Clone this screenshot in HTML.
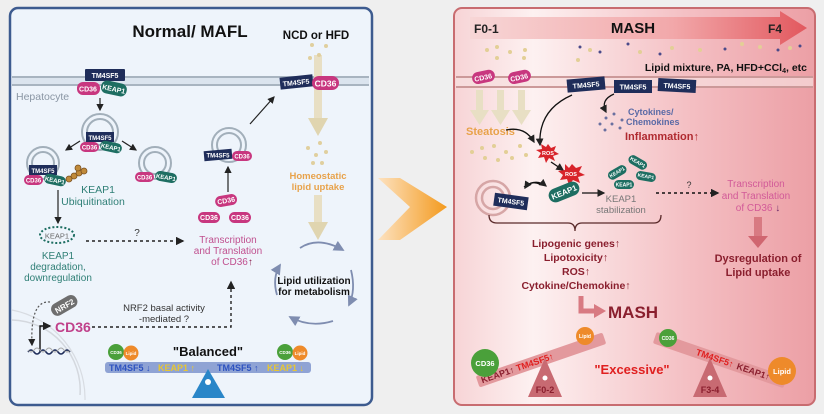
<!DOCTYPE html>
<html><head><meta charset="utf-8"><style>
body{margin:0;background:#efefef;}
svg{display:block;font-family:"Liberation Sans",sans-serif;}
</style></head><body>
<svg width="824" height="414" viewBox="0 0 824 414" xmlns="http://www.w3.org/2000/svg">
<defs>
<linearGradient id="rg" x1="0" x2="1" y1="0" y2="0">
<stop offset="0" stop-color="#f7d4d6"/><stop offset="0.22" stop-color="#fdf1f1"/><stop offset="0.65" stop-color="#f4bfc3"/><stop offset="1" stop-color="#ec9fa5"/></linearGradient>
<linearGradient id="ag" x1="0" x2="1"><stop offset="0" stop-color="#f7d6d6"/><stop offset="0.6" stop-color="#f2a8aa"/><stop offset="1" stop-color="#e2585e"/></linearGradient>
<linearGradient id="og" x1="0" x2="1"><stop offset="0" stop-color="#fde2c0"/><stop offset="1" stop-color="#f39a1e"/></linearGradient>
<marker id="ah" markerWidth="6" markerHeight="6" refX="5" refY="3" orient="auto"><path d="M0,0L6,3L0,6z" fill="#222"/></marker>
<marker id="ah2" markerWidth="6" markerHeight="6" refX="5" refY="3" orient="auto"><path d="M0,0L6,3L0,6z" fill="#7f8db0"/></marker>
</defs>
<rect width="824" height="414" fill="#efefef"/>
<!-- orange arrow -->
<polygon points="378,178 400,178 447,207 400,240 378,240 410,207" fill="url(#og)"/>
<!-- LEFT PANEL -->
<rect x="10" y="8" width="362" height="397" rx="8" fill="#eef4fb" stroke="#3d5b8f" stroke-width="2.5"/>
<path d="M12,320 A70,70 0 0 1 80,395" fill="none" stroke="#d4d8de" stroke-width="1.5"/>
<path d="M12,310 A90,90 0 0 1 85,400" fill="none" stroke="#d8dce2" stroke-width="1.2"/>
<line x1="12" y1="77" x2="369" y2="77" stroke="#a8b4c0" stroke-width="2"/>
<line x1="12" y1="85" x2="369" y2="85" stroke="#a8b4c0" stroke-width="2"/>
<rect x="12" y="78" width="357" height="6" fill="#dbe4ee"/>
<text x="190" y="37" font-size="17" font-weight="bold" text-anchor="middle" fill="#111">Normal/ MAFL</text>
<text x="316" y="39" font-size="11.5" font-weight="bold" text-anchor="middle" fill="#111">NCD or HFD</text>
<text x="16" y="100" font-size="10.5" fill="#8a96a4">Hepatocyte</text>
<!-- tan arrows -->
<rect x="314" y="55" width="8" height="65" fill="#e8dfc4"/><polygon points="308,118 328,118 318,136" fill="#e0d5b0"/>
<rect x="314" y="195" width="8" height="30" fill="#e8dfc4"/><polygon points="308,222 328,222 318,240" fill="#e0d5b0"/>
<g fill="#e0cf9e"><circle cx="312" cy="45" r="2"/><circle cx="326" cy="46" r="2"/><circle cx="310" cy="58" r="2"/><circle cx="319" cy="55" r="2"/><circle cx="308" cy="148" r="2"/><circle cx="320" cy="143" r="2"/><circle cx="316" cy="155" r="2"/><circle cx="326" cy="152" r="2"/><circle cx="313" cy="163" r="2"/><circle cx="322" cy="163" r="2"/></g>
<text x="318" y="179" font-size="9.5" font-weight="bold" text-anchor="middle" fill="#e8a24a">Homeostatic</text>
<text x="318" y="190" font-size="9.5" font-weight="bold" text-anchor="middle" fill="#e8a24a">lipid uptake</text>
<!-- top complex -->
<rect x="85" y="69" width="40" height="12" rx="1" fill="#1f2d5a"/><text x="105" y="78" font-size="7" font-weight="bold" fill="#fff" text-anchor="middle">TM4SF5</text>
<rect x="77" y="82" width="23" height="13" rx="6" fill="#c8377f"/><text x="88" y="91.5" font-size="7" font-weight="bold" fill="#fff" text-anchor="middle">CD36</text>
<rect x="101" y="82" width="26" height="13" rx="6" fill="#1e6e62" transform="rotate(12 114 88)"/><text x="114" y="91.5" font-size="7" font-weight="bold" fill="#fff" text-anchor="middle" transform="rotate(12 114 88)">KEAP1</text>
<line x1="100" y1="98" x2="100" y2="110" stroke="#222" stroke-width="1.2" marker-end="url(#ah)"/>
<!-- vesicles -->
<g fill="none" stroke="#a2afba" stroke-width="2">
<circle cx="100" cy="132" r="18"/><circle cx="100" cy="132" r="13"/>
<circle cx="43" cy="163" r="16"/><circle cx="43" cy="163" r="11"/>
<circle cx="155" cy="163" r="16"/><circle cx="155" cy="163" r="11"/>
<circle cx="229" cy="145" r="17"/><circle cx="229" cy="145" r="12"/>
</g>
<rect x="86" y="132" width="28" height="10" fill="#1f2d5a"/><text x="100" y="140" font-size="6" font-weight="bold" fill="#fff" text-anchor="middle">TM4SF5</text>
<rect x="80" y="142" width="19" height="10" rx="5" fill="#c8377f"/><text x="89.5" y="149.5" font-size="6" font-weight="bold" fill="#fff" text-anchor="middle">CD36</text>
<rect x="100" y="142" width="22" height="10" rx="5" fill="#1e6e62" transform="rotate(12 111 147)"/><text x="111" y="149.5" font-size="6" font-weight="bold" fill="#fff" text-anchor="middle" transform="rotate(12 111 147)">KEAP1</text>
<line x1="80" y1="141" x2="66" y2="150" stroke="#222" stroke-width="1.2" marker-end="url(#ah)"/>
<line x1="122" y1="141" x2="136" y2="150" stroke="#222" stroke-width="1.2" marker-end="url(#ah)"/>
<rect x="29" y="165" width="28" height="10" fill="#1f2d5a"/><text x="43" y="173" font-size="6" font-weight="bold" fill="#fff" text-anchor="middle">TM4SF5</text>
<rect x="24" y="175" width="19" height="10" rx="5" fill="#c8377f"/><text x="33.5" y="182.5" font-size="6" font-weight="bold" fill="#fff" text-anchor="middle">CD36</text>
<rect x="44" y="175" width="22" height="10" rx="5" fill="#1e6e62" transform="rotate(12 55 180)"/><text x="55" y="182.5" font-size="6" font-weight="bold" fill="#fff" text-anchor="middle" transform="rotate(12 55 180)">KEAP1</text>
<g fill="#c08a3a" stroke="#7a5020" stroke-width="0.8"><circle cx="69" cy="179" r="3"/><circle cx="74" cy="176" r="3"/><circle cx="79" cy="173" r="3"/><circle cx="84" cy="171" r="3"/><circle cx="78" cy="168" r="3"/></g>
<rect x="135" y="172" width="19" height="10" rx="5" fill="#c8377f"/><text x="144.5" y="179.5" font-size="6" font-weight="bold" fill="#fff" text-anchor="middle">CD36</text>
<rect x="155" y="172" width="22" height="10" rx="5" fill="#1e6e62" transform="rotate(10 166 177)"/><text x="166" y="179.5" font-size="6" font-weight="bold" fill="#fff" text-anchor="middle" transform="rotate(10 166 177)">KEAP1</text>
<text x="98" y="193" font-size="10.5" fill="#2f7f76" text-anchor="middle">KEAP1</text>
<text x="93" y="205" font-size="10.5" fill="#2f7f76" text-anchor="middle">Ubiquitination</text>
<line x1="58" y1="190" x2="58" y2="223" stroke="#222" stroke-width="1.2" marker-end="url(#ah)"/>
<ellipse cx="57" cy="235" rx="17" ry="8" fill="none" stroke="#1e6e62" stroke-width="2" stroke-dasharray="2,2"/><text x="57" y="238.5" font-size="7.5" fill="#666" text-anchor="middle">KEAP1</text>
<text x="58" y="259" font-size="10" fill="#2f7f76" text-anchor="middle">KEAP1</text>
<text x="58" y="270" font-size="10" fill="#2f7f76" text-anchor="middle">degradation,</text>
<text x="58" y="281" font-size="10" fill="#2f7f76" text-anchor="middle">downregulation</text>
<line x1="86" y1="241" x2="183" y2="241" stroke="#222" stroke-width="1.4" stroke-dasharray="3,3" marker-end="url(#ah)"/>
<text x="137" y="236" font-size="10" fill="#333" text-anchor="middle">?</text>
<!-- middle vesicle -->
<rect x="204" y="150" width="28" height="10" fill="#1f2d5a" transform="rotate(-5 218 155)"/><text x="218" y="157.5" font-size="6" font-weight="bold" fill="#fff" text-anchor="middle">TM4SF5</text>
<rect x="232" y="151" width="20" height="10" rx="5" fill="#c8377f"/><text x="242" y="158.5" font-size="6" font-weight="bold" fill="#fff" text-anchor="middle">CD36</text>
<line x1="228" y1="192" x2="228" y2="167" stroke="#222" stroke-width="1.2" marker-end="url(#ah)"/>
<line x1="250" y1="124" x2="274" y2="97" stroke="#222" stroke-width="1.2" marker-end="url(#ah)"/>
<rect x="280" y="76" width="33" height="12" fill="#1f2d5a" transform="rotate(-6 296 82)"/><text x="296" y="85" font-size="7" font-weight="bold" fill="#fff" text-anchor="middle" transform="rotate(-6 296 82)">TM4SF5</text>
<rect x="312" y="76" width="27" height="14" rx="7" fill="#c8377f"/><text x="325.5" y="86.5" font-size="8.5" font-weight="bold" fill="#fff" text-anchor="middle">CD36</text>
<g font-size="7" font-weight="bold" fill="#fff" text-anchor="middle">
<rect x="215" y="195" width="22" height="11" rx="5.5" fill="#c8377f" transform="rotate(-10 226 200)"/><text x="226" y="203" transform="rotate(-10 226 200)">CD36</text>
<rect x="198" y="212" width="22" height="11" rx="5.5" fill="#c8377f"/><text x="209" y="220">CD36</text>
<rect x="229" y="212" width="22" height="11" rx="5.5" fill="#c8377f"/><text x="240" y="220">CD36</text>
</g>
<text x="228" y="243" font-size="10" fill="#c0508f" text-anchor="middle">Transcription</text>
<text x="228" y="254" font-size="10" fill="#c0508f" text-anchor="middle">and Translation</text>
<text x="232" y="265" font-size="10" fill="#c0508f" text-anchor="middle">of CD36<tspan fill="#8a1f4e" font-weight="bold">↑</tspan></text>
<polyline points="92,327 231,327 231,282" fill="none" stroke="#222" stroke-width="1.4" stroke-dasharray="3,3" marker-end="url(#ah)"/>
<text x="164" y="311" font-size="9.5" fill="#333" text-anchor="middle">NRF2 basal activity</text>
<text x="164" y="322" font-size="9.5" fill="#333" text-anchor="middle">-mediated ?</text>
<rect x="50" y="299" width="28" height="13" rx="6" fill="#6e6e6e" transform="rotate(-30 64 305)"/><text x="64" y="309" font-size="8" font-weight="bold" fill="#fff" text-anchor="middle" transform="rotate(-30 64 305)">NRF2</text>
<path d="M50,302 Q30,300 32,345" fill="none" stroke="#555" stroke-width="1.2" stroke-dasharray="2,2" marker-end="url(#ah)"/>
<polyline points="40,352 40,326 50,326" fill="none" stroke="#111" stroke-width="1.4" marker-end="url(#ah)"/>
<text x="55" y="332" font-size="14" font-weight="bold" fill="#c0408a">CD36</text>
<path d="M28,352 q3,-4 6,0 t6,0 t6,0 t6,0 t6,0 t6,0 t6,0" fill="none" stroke="#1f2d5a" stroke-width="1.5"/>
<path d="M28,350 q3,4 6,0 t6,0 t6,0 t6,0 t6,0 t6,0 t6,0" fill="none" stroke="#aaa" stroke-width="1"/>
<!-- cycle -->
<path d="M300,248 Q318,236 343,250" fill="none" stroke="#7f8db0" stroke-width="1.8" marker-end="url(#ah2)"/>
<path d="M351,270 Q356,290 349,305" fill="none" stroke="#7f8db0" stroke-width="1.8" marker-end="url(#ah2)"/>
<path d="M333,321 Q310,328 290,317" fill="none" stroke="#7f8db0" stroke-width="1.8" marker-end="url(#ah2)"/>
<path d="M277,295 Q272,278 280,265" fill="none" stroke="#7f8db0" stroke-width="1.8" marker-end="url(#ah2)"/>
<text x="314" y="284" font-size="10" font-weight="bold" fill="#111" text-anchor="middle">Lipid utilization</text>
<text x="314" y="295" font-size="10" font-weight="bold" fill="#111" text-anchor="middle">for metabolism</text>
<!-- balance -->
<text x="208" y="356" font-size="13" font-weight="bold" fill="#111" text-anchor="middle">"Balanced"</text>
<rect x="105" y="362" width="206" height="11" rx="3" fill="#8fa3d4"/>
<g font-size="9" font-weight="bold"><text x="109" y="371" fill="#2d52c0">TM4SF5 ↓</text><text x="158" y="371" fill="#e7c634">KEAP1 ↑</text><text x="217" y="371" fill="#2d52c0">TM4SF5 ↑</text><text x="267" y="371" fill="#e7c634">KEAP1 ↓</text></g>
<polygon points="208,369 192,398 225,398" fill="#2a86c8"/><circle cx="208" cy="382" r="3" fill="#fff"/>
<g font-size="4.5" fill="#fff" text-anchor="middle" font-weight="bold">
<circle cx="116" cy="352" r="8" fill="#4aa03a"/><text x="116" y="354">CD36</text><circle cx="131" cy="353" r="7.5" fill="#ee8a2a"/><text x="131" y="355">Lipid</text>
<circle cx="285" cy="352" r="8" fill="#4aa03a"/><text x="285" y="354">CD36</text><circle cx="300" cy="353" r="7.5" fill="#ee8a2a"/><text x="300" y="355">Lipid</text>
</g>
<!-- RIGHT PANEL -->
<rect x="454" y="8" width="361" height="397" rx="8" fill="url(#rg)" stroke="#c86c70" stroke-width="2"/>
<polygon points="470,17 780,17 780,11 807,28 780,45 780,39 470,39" fill="url(#ag)"/>
<text x="474" y="33" font-size="12" font-weight="bold" fill="#222">F0-1</text>
<text x="633" y="33" font-size="15" font-weight="bold" fill="#111" text-anchor="middle">MASH</text>
<text x="768" y="33" font-size="12" font-weight="bold" fill="#222">F4</text>
<g fill="#e3cf96"><circle cx="487" cy="50" r="2"/><circle cx="497" cy="47" r="2"/><circle cx="510" cy="52" r="2"/><circle cx="525" cy="50" r="2"/><circle cx="590" cy="50" r="2"/><circle cx="640" cy="52" r="2"/><circle cx="672" cy="48" r="2"/><circle cx="700" cy="50" r="2"/><circle cx="742" cy="44" r="2"/><circle cx="760" cy="47" r="2"/><circle cx="790" cy="48" r="2"/><circle cx="578" cy="60" r="2"/><circle cx="497" cy="58" r="2"/><circle cx="524" cy="58" r="2"/></g>
<g fill="#4a4a8a"><circle cx="580" cy="47" r="1.5"/><circle cx="600" cy="52" r="1.5"/><circle cx="628" cy="44" r="1.5"/><circle cx="660" cy="54" r="1.5"/><circle cx="725" cy="49" r="1.5"/><circle cx="778" cy="50" r="1.5"/><circle cx="800" cy="46" r="1.5"/></g>
<text x="807" y="71" font-size="10.5" font-weight="bold" fill="#111" text-anchor="end">Lipid mixture, PA, HFD+CCl<tspan font-size="7" dy="2">4</tspan><tspan dy="-2">, etc</tspan></text>
<line x1="456" y1="77" x2="813" y2="77" stroke="#c99" stroke-width="2"/>
<line x1="456" y1="87" x2="813" y2="87" stroke="#c99" stroke-width="2"/>
<rect x="456" y="78" width="357" height="8" fill="#f6dede" opacity="0.7"/>
<g fill="#e8dfc4"><rect x="476" y="90" width="7" height="22"/><polygon points="470,110 489,110 479.5,125"/><rect x="497" y="90" width="7" height="22"/><polygon points="491,110 510,110 500.5,125"/><rect x="518" y="90" width="7" height="22"/><polygon points="512,110 531,110 521.5,125"/></g>
<rect x="472" y="71" width="23" height="12" rx="6" fill="#c8377f" transform="rotate(-12 483 77)"/><text x="483" y="80" font-size="7" font-weight="bold" fill="#fff" text-anchor="middle" transform="rotate(-12 483 77)">CD36</text>
<rect x="508" y="71" width="23" height="12" rx="6" fill="#c8377f" transform="rotate(-12 519 77)"/><text x="519" y="80" font-size="7" font-weight="bold" fill="#fff" text-anchor="middle" transform="rotate(-12 519 77)">CD36</text>
<text x="466" y="135" font-size="11" font-weight="bold" fill="#e8a24a">Steatosis</text>
<g fill="#e3cf96"><circle cx="472" cy="152" r="2"/><circle cx="482" cy="148" r="2"/><circle cx="494" cy="146" r="2"/><circle cx="506" cy="152" r="2"/><circle cx="520" cy="146" r="2"/><circle cx="485" cy="158" r="2"/><circle cx="498" cy="160" r="2"/><circle cx="512" cy="158" r="2"/><circle cx="526" cy="155" r="2"/></g>
<g font-size="7" font-weight="bold" fill="#fff" text-anchor="middle">
<rect x="567" y="78" width="38" height="13" fill="#1f2d5a" transform="rotate(-5 586 84)"/><text x="586" y="87.5" transform="rotate(-5 586 84)">TM4SF5</text>
<rect x="614" y="80" width="38" height="13" fill="#1f2d5a"/><text x="633" y="89.5">TM4SF5</text>
<rect x="658" y="79" width="38" height="13" fill="#1f2d5a" transform="rotate(3 677 85)"/><text x="677" y="88.5" transform="rotate(3 677 85)">TM4SF5</text>
</g>
<path d="M572,95 Q538,110 540,145" fill="none" stroke="#111" stroke-width="1.3" marker-end="url(#ah)"/>
<path d="M506,130 Q525,126 534,142" fill="none" stroke="#111" stroke-width="1.3" marker-end="url(#ah)"/>
<path d="M614,94 Q600,100 606,112" fill="none" stroke="#111" stroke-width="1.3" marker-end="url(#ah)"/>
<g fill="#6a70a0"><circle cx="606" cy="118" r="1.5"/><circle cx="614" cy="114" r="1.5"/><circle cx="600" cy="124" r="1.5"/><circle cx="612" cy="124" r="1.5"/><circle cx="622" cy="120" r="1.5"/><circle cx="620" cy="128" r="1.5"/><circle cx="605" cy="130" r="1.5"/></g>
<text x="628" y="115" font-size="9" font-weight="bold" fill="#5a6aa6">Cytokines/</text>
<text x="626" y="125" font-size="9" font-weight="bold" fill="#5a6aa6">Chemokines</text>
<text x="625" y="140" font-size="11" font-weight="bold" fill="#b02a30">Inflammation↑</text>
<polygon points="548,144 551,148 556,146 554,151 559,154 553,156 555,161 549,158 546,163 544,157 538,158 541,153 536,150 542,149 541,144 546,147" fill="#d8232a"/><text x="548" y="155" font-size="5.5" fill="#fff" font-weight="bold" text-anchor="middle">ROS</text>
<line x1="551" y1="162" x2="563" y2="170" stroke="#111" stroke-width="1.3" marker-end="url(#ah)"/>
<polygon points="572,164 576,168 582,166 579,172 585,175 578,177 580,183 573,180 569,185 567,179 560,180 563,175 558,171 565,170 565,164 569,168" fill="#d8232a"/><text x="571" y="176" font-size="5.5" fill="#fff" font-weight="bold" text-anchor="middle">ROS</text>
<rect x="548" y="185" width="32" height="14" rx="7" fill="#1e6e62" transform="rotate(-22 564 192)"/><text x="564" y="195" font-size="8" font-weight="bold" fill="#fff" text-anchor="middle" transform="rotate(-22 564 192)">KEAP1</text>
<circle cx="493" cy="198" r="17" fill="none" stroke="#d6a6a6" stroke-width="2.5"/><circle cx="493" cy="198" r="11" fill="none" stroke="#d6a6a6" stroke-width="2.5"/>
<rect x="494" y="195" width="34" height="13" fill="#1f2d5a" transform="rotate(8 511 201)"/><text x="511" y="204" font-size="7" font-weight="bold" fill="#fff" text-anchor="middle" transform="rotate(8 511 201)">TM4SF5</text>
<path d="M524,187 Q536,178 546,186" fill="none" stroke="#111" stroke-width="1.3" marker-end="url(#ah)"/>
<path d="M540,184 Q530,180 525,188" fill="none" stroke="#111" stroke-width="1.3" marker-end="url(#ah)"/>
<line x1="582" y1="193" x2="604" y2="193" stroke="#111" stroke-width="1.3" marker-end="url(#ah)"/>
<g font-size="5" font-weight="bold" fill="#fff" text-anchor="middle">
<rect x="607" y="168" width="20" height="9" rx="4.5" fill="#1e6e62" transform="rotate(-30 617 172)"/><text x="617" y="174" transform="rotate(-30 617 172)">KEAP1</text>
<rect x="628" y="158" width="20" height="9" rx="4.5" fill="#1e6e62" transform="rotate(30 638 162)"/><text x="638" y="164" transform="rotate(30 638 162)">KEAP1</text>
<rect x="636" y="172" width="20" height="9" rx="4.5" fill="#1e6e62" transform="rotate(10 646 176)"/><text x="646" y="178" transform="rotate(10 646 176)">KEAP1</text>
<rect x="614" y="180" width="20" height="9" rx="4.5" fill="#1e6e62"/><text x="624" y="186.5">KEAP1</text>
</g>
<text x="621" y="202" font-size="9.5" fill="#777" text-anchor="middle">KEAP1</text>
<text x="621" y="213" font-size="9.5" fill="#777" text-anchor="middle">stabilization</text>
<line x1="656" y1="193" x2="718" y2="193" stroke="#111" stroke-width="1.4" stroke-dasharray="3,3" marker-end="url(#ah)"/>
<text x="689" y="188" font-size="9" fill="#333" text-anchor="middle">?</text>
<text x="756" y="187" font-size="10" fill="#d25a98" text-anchor="middle">Transcription</text>
<text x="756" y="199" font-size="10" fill="#d25a98" text-anchor="middle">and Translation</text>
<text x="758" y="211" font-size="10" fill="#d25a98" text-anchor="middle">of CD36 <tspan fill="#6a2a6a" font-weight="bold">↓</tspan></text>
<rect x="754" y="217" width="8" height="22" fill="#d87a82"/><polygon points="748,236 768,236 758,248" fill="#d06670"/>
<text x="758" y="262" font-size="11" font-weight="bold" fill="#8a1f2e" text-anchor="middle">Dysregulation of</text>
<text x="758" y="276" font-size="11" font-weight="bold" fill="#8a1f2e" text-anchor="middle">Lipid uptake</text>
<path d="M489,215 Q489,223 497,223 L568,223 Q575,223 575,231 Q575,223 582,223 L654,223 Q661,223 661,215" fill="none" stroke="#5a2a2a" stroke-width="1.3"/>
<g font-size="10.5" font-weight="bold" fill="#8a1f2e" text-anchor="middle">
<text x="576" y="247">Lipogenic genes↑</text><text x="576" y="261">Lipotoxicity↑</text><text x="576" y="275">ROS↑</text><text x="576" y="289">Cytokine/Chemokine↑</text></g>
<path d="M581,296 L581,311 L596,311" fill="none" stroke="#d87a82" stroke-width="5"/><polygon points="594,304 606,311 594,318" fill="#d87a82"/>
<text x="608" y="318" font-size="17" font-weight="bold" fill="#8a1f2e">MASH</text>
<!-- seesaws -->
<rect x="474" y="354" width="134" height="12" rx="2" fill="#e3999d" transform="rotate(-19 541 360)"/>
<g font-size="9" font-weight="bold" transform="rotate(-19 541 360)"><text x="478" y="363" fill="#8a1f2e">KEAP1↑</text><text x="515" y="363" fill="#e02020">TM4SF5↑</text></g>
<circle cx="485" cy="363" r="14" fill="#4aa03a"/><text x="485" y="366" font-size="7.5" font-weight="bold" fill="#fff" text-anchor="middle">CD36</text>
<circle cx="585" cy="336" r="9" fill="#ee8a2a"/><text x="585" y="338" font-size="5" font-weight="bold" fill="#fff" text-anchor="middle">Lipid</text>
<polygon points="545,358 528,397 562,397" fill="#c86a72"/><circle cx="545" cy="378" r="2.5" fill="#fff"/><text x="545" y="393" font-size="9" font-weight="bold" fill="#8a1f2e" text-anchor="middle">F0-2</text>
<rect x="651" y="354" width="138" height="12" rx="2" fill="#e3999d" transform="rotate(19 720 360)"/>
<g font-size="9" font-weight="bold" transform="rotate(19 720 360)"><text x="695" y="363" fill="#e02020">TM4SF5↑</text><text x="738" y="363" fill="#8a1f2e">KEAP1↑</text></g>
<circle cx="668" cy="338" r="9" fill="#4aa03a"/><text x="668" y="340" font-size="5" font-weight="bold" fill="#fff" text-anchor="middle">CD36</text>
<circle cx="782" cy="371" r="14" fill="#ee8a2a"/><text x="782" y="374" font-size="7.5" font-weight="bold" fill="#fff" text-anchor="middle">Lipid</text>
<polygon points="710,358 693,397 727,397" fill="#c86a72"/><circle cx="710" cy="378" r="2.5" fill="#fff"/><text x="710" y="393" font-size="9" font-weight="bold" fill="#8a1f2e" text-anchor="middle">F3-4</text>
<text x="632" y="374" font-size="13" font-weight="bold" fill="#e02020" text-anchor="middle">"Excessive"</text>
</svg>
</body></html>
